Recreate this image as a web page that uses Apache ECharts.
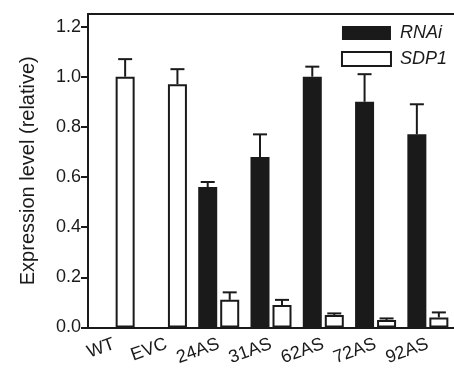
<!DOCTYPE html>
<html><head><meta charset="utf-8">
<script src="https://cdn.jsdelivr.net/npm/echarts@6/dist/echarts.min.js"></script>
<style>html,body{margin:0;padding:0;background:#fff}#c{width:454px;height:368px}</style>
</head><body><div id="c"></div>
<script>
var categories = ['WT','EVC','24AS','31AS','62AS','72AS','92AS'];
var rnai = [null,null,0.56,0.68,1.00,0.90,0.77];
var rnaiErr = [null,null,0.02,0.09,0.04,0.11,0.12];
var sdp1 = [1.00,0.97,0.11,0.09,0.05,0.03,0.04];
var sdp1Err = [0.07,0.06,0.03,0.02,0.006,0.006,0.02];
var yTicks = [0,0.2,0.4,0.6,0.8,1.0,1.2];

var BW = 19, GAP = 3;
var ink = '#1a1a1a';
function errData(vals, errs){
  var d=[];
  for(var i=0;i<vals.length;i++){ if(vals[i]!=null) d.push([i, vals[i], errs[i]]); }
  return d;
}
function errRender(sign){
  return function(params, api){
    var i=api.value(0), v=api.value(1), e=api.value(2);
    var p0=api.coord([i,v]), p1=api.coord([i,v+e]);
    var x=p0[0]+sign*(BW+GAP)/2;
    var cap=7;
    return {type:'group',children:[
      {type:'line',shape:{x1:x,y1:p0[1],x2:x,y2:p1[1]},style:{stroke:ink,lineWidth:2}},
      {type:'line',shape:{x1:x-cap,y1:p1[1],x2:x+cap,y2:p1[1]},style:{stroke:ink,lineWidth:2}}
    ]};
  };
}
var chart = echarts.init(document.getElementById('c'));
chart.setOption({
  animation:false,
  textStyle:{fontFamily:'Liberation Sans, Arial, sans-serif'},
  grid:{left:88,top:14,bottom:40,right:-12},
  legend:{
    right:2, top:19, orient:'vertical', itemWidth:49, itemHeight:14, itemGap:8, icon:'rect',
    textStyle:{fontStyle:'italic',fontSize:18,color:ink,padding:[0,0,0,4]},
    data:['RNAi','SDP1']
  },
  xAxis:[{
    type:'category', data:categories,
    axisLine:{lineStyle:{color:ink,width:2}},
    axisTick:{alignWithLabel:true,length:6,lineStyle:{color:ink,width:2}},
    axisLabel:{rotate:20,fontSize:18,color:ink,margin:16,interval:0}
  },{
    type:'category', data:categories, position:'top',
    axisLine:{show:true,lineStyle:{color:ink,width:2}},
    axisTick:{show:false}, axisLabel:{show:false}
  }],
  yAxis:{
    type:'value', min:0, max:1.25,
    name:'Expression level (relative)', nameLocation:'middle', nameGap:50,
    nameTextStyle:{fontSize:20,color:ink},
    splitLine:{show:false},
    axisLine:{show:true,lineStyle:{color:ink,width:2}},
    axisTick:{show:true,length:7,lineStyle:{color:ink,width:2},customValues:yTicks},
    axisLabel:{fontSize:18,color:ink,margin:7,customValues:yTicks,formatter:function(v){return v.toFixed(1);}}
  },
  series:[
    {name:'RNAi',type:'bar',data:rnai,barWidth:BW,barGap:(GAP/BW*100)+'%',
     itemStyle:{color:ink}},
    {name:'SDP1',type:'bar',data:sdp1,barWidth:BW,
     itemStyle:{color:'#fff',borderColor:ink,borderWidth:2}},
    {type:'custom',renderItem:errRender(-1),data:errData(rnai,rnaiErr),z:5},
    {type:'custom',renderItem:errRender(1),data:errData(sdp1,sdp1Err),z:5}
  ]
});
</script></body></html>
